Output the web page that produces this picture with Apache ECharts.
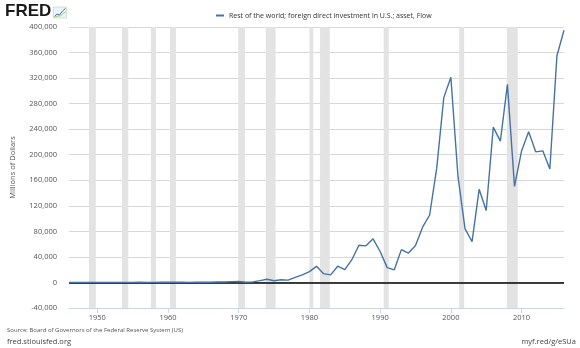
<!DOCTYPE html>
<html>
<head>
<meta charset="utf-8">
<script src="https://cdn.jsdelivr.net/npm/echarts@6/dist/echarts.min.js"></script>
<style>
  html, body { margin: 0; padding: 0; background: #fff; }
  #chart { width: 580px; height: 348px; }
</style>
</head>
<body>
<div id="chart"></div>
<script>
// Annual flow, millions of dollars
const years = [];
for (let y = 1946; y <= 2016; y++) years.push(y);

const values = [
  100, 200, 200, 100, 100, 200, 200, 200, 100, 200,          // 1946-1955
  300, 200, 100, 300, 300, 300, 300, 200, 300, 400,          // 1956-1965
  400, 700, 800, 1300, 1500, 400, 900, 2800, 5000, 2600,      // 1966-1975
  4300, 3700, 7900, 11900, 16900, 25200, 13800, 11900, 25400, 20000, // 1976-1985
  35600, 58200, 57300, 68300, 48500, 23200, 19800, 51400, 46100, 57800, // 1986-1995
  86500, 105600, 179000, 289400, 321300, 167000, 84400, 63800, 145800, 112600, // 1996-2005
  243200, 221200, 310100, 150400, 205900, 236000, 204500, 206100, 177700, 355000, // 2006-2015
  395000                                                      // 2016
];

// Recession periods (start, end) in fractional years
const recessions = [
  [1948.83, 1949.79], [1953.5, 1954.38], [1957.58, 1958.29], [1960.29, 1961.13],
  [1969.92, 1970.88], [1973.83, 1975.21], [1980.0, 1980.54], [1981.5, 1982.88],
  [1990.5, 1991.21], [2001.17, 2001.88], [2007.92, 2009.46]
];

const yearTicks = [1950, 1960, 1970, 1980, 1990, 2000, 2010];
const seriesName = 'Rest of the world; foreign direct investment in U.S.; asset, Flow';

const chart = echarts.init(document.getElementById('chart'), null, { renderer: 'canvas' });
const font = '"Open Sans", "Noto Sans", sans-serif';

chart.setOption({
  animation: false,
  backgroundColor: '#ffffff',
  textStyle: { fontFamily: font },
  grid: { left: 69, right: 16, top: 27, bottom: 40 },
  legend: {
    top: 7,
    left: 211,
    itemWidth: 8,
    itemHeight: 2,
    icon: 'rect',
    itemGap: 4,
    textStyle: { fontSize: 7, color: '#333', fontFamily: font },
    data: [seriesName]
  },
  xAxis: {
    type: 'value',
    min: 1946,
    max: 2016,
    axisLine: { show: true, onZero: false, lineStyle: { color: '#ccd6eb', width: 1 } },
    axisTick: { show: true, customValues: yearTicks, length: 5, lineStyle: { color: '#ccd6eb' } },
    axisLabel: {
      customValues: yearTicks,
      fontSize: 7.5,
      color: '#555',
      margin: 6,
      formatter: v => String(v)
    },
    splitLine: { show: false }
  },
  yAxis: {
    type: 'value',
    min: -40000,
    max: 400000,
    interval: 40000,
    name: 'Millions of Dollars',
    nameLocation: 'middle',
    nameGap: 52,
    nameTextStyle: { fontSize: 7.5, color: '#555' },
    axisLine: { show: false },
    axisTick: { show: false },
    axisLabel: {
      fontSize: 7.5,
      color: '#555',
      margin: 12,
      formatter: v => v.toLocaleString('en-US')
    },
    splitLine: { lineStyle: { color: '#d8d8d8', width: 1 } }
  },
  series: [{
    name: seriesName,
    type: 'line',
    data: years.map((y, i) => [y, values[i]]),
    showSymbol: false,
    symbol: 'none',
    lineStyle: { color: '#4572a7', width: 1.4 },
    itemStyle: { color: '#4572a7' },
    z: 5,
    markArea: {
      silent: true,
      itemStyle: { color: '#e3e3e3' },
      data: recessions.map(r => [{ xAxis: r[0] }, { xAxis: r[1] }])
    },
    markLine: {
      silent: true,
      symbol: 'none',
      label: { show: false },
      lineStyle: { color: '#000', width: 1.6, type: 'solid' },
      data: [{ yAxis: 0 }]
    }
  }],
  graphic: [
    {
      type: 'text', left: 5, top: 3,
      style: { text: 'FRED', fontSize: 17, fontWeight: 900, fill: '#1a1a1a', fontFamily: '"Liberation Sans", Arial, sans-serif' }
    },
    {
      type: 'group', left: 52, top: 6,
      children: [
        { type: 'rect', shape: { x: 0, y: 0, width: 13, height: 11 }, style: { fill: '#eef3f8', stroke: '#b9c9dc', lineWidth: 0.6 } },
        { type: 'polyline', shape: { points: [[1, 9.5], [3.5, 7], [6, 8], [9, 4], [12, 1.5]] }, style: { stroke: '#4572a7', lineWidth: 1, fill: null } },
        { type: 'polyline', shape: { points: [[1, 10], [4.5, 9], [7, 9], [10, 6], [12, 5]] }, style: { stroke: '#8cc63f', lineWidth: 0.8, fill: null } }
      ]
    },
    {
      type: 'text', left: 7, top: 327,
      style: { text: 'Source: Board of Governors of the Federal Reserve System (US)', fontSize: 6, fill: '#555', fontFamily: font }
    },
    {
      type: 'text', left: 7, top: 338,
      style: { text: 'fred.stlouisfed.org', fontSize: 7.5, fill: '#444', fontFamily: font }
    },
    {
      type: 'text', right: 4, top: 338,
      style: { text: 'myf.red/g/eSUa', fontSize: 7.5, fill: '#444', fontFamily: font }
    }
  ]
});
</script>
</body>
</html>
